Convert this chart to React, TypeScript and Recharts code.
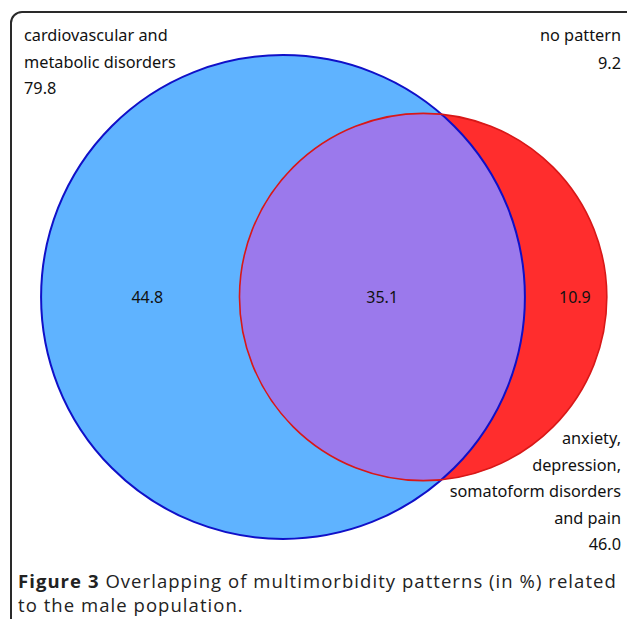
import React from "react";
import { ScatterChart, Scatter, XAxis, YAxis, ZAxis } from "recharts";

// Venn values (percent of male population)
const SET_NAMES = [
  "cardiovascular and metabolic disorders",
  "anxiety, depression, somatoform disorders and pain",
];
const SET_TOTALS = [79.8, 46.0];
const SET_OVERLAP = 35.1;
const REGION_NAMES = ["cardiovascular only", "both", "mental only"];
const REGION_VALUES = [44.8, 35.1, 10.9];
const NO_PATTERN = 9.2;

const FILL = ["#5fb3ff", "#ff2d2d"];
const STROKE = ["#1010c8", "#d81818"];
const LENS_FILL = "#9b79ec";
const TEXT = "#111";
const LABEL_FONT = "'Noto Sans', sans-serif";

// page layout
const W = 627;
const H = 619;
const PX = 48; // pixels per unit (circle area in units == value)
const ORIGIN = { x: 283, y: 297 };
const LABEL_NUDGE = [7, 0, 9];

// area-proportional geometry
const radius = (v: number) => Math.sqrt(v / Math.PI);

function lensArea(r1: number, r2: number, d: number) {
  if (d >= r1 + r2) return 0;
  if (d <= Math.abs(r1 - r2)) return Math.PI * Math.min(r1, r2) ** 2;
  const a1 = Math.acos((d * d + r1 * r1 - r2 * r2) / (2 * d * r1));
  const a2 = Math.acos((d * d + r2 * r2 - r1 * r1) / (2 * d * r2));
  const k = Math.sqrt((-d + r1 + r2) * (d + r1 - r2) * (d - r1 + r2) * (d + r1 + r2));
  return r1 * r1 * a1 + r2 * r2 * a2 - 0.5 * k;
}

function centerDistance(r1: number, r2: number, area: number) {
  let lo = Math.abs(r1 - r2);
  let hi = r1 + r2;
  for (let i = 0; i < 60; i++) {
    const mid = (lo + hi) / 2;
    if (lensArea(r1, r2, mid) > area) lo = mid;
    else hi = mid;
  }
  return (lo + hi) / 2;
}

const R1 = radius(SET_TOTALS[0]);
const R2 = radius(SET_TOTALS[1]);
const D = centerDistance(R1, R2, SET_OVERLAP);

const circles = SET_NAMES.map((name, i) => ({ name, value: SET_TOTALS[i], x: i === 0 ? 0 : D, y: 0 }));
const regionX = [(-R1 + D - R2) / 2, (D - R2 + R1) / 2, (R1 + D + R2) / 2];
const regions = REGION_NAMES.map((name, i) => ({ name, value: REGION_VALUES[i], x: regionX[i], y: 0 }));

const X_DOMAIN = [-ORIGIN.x / PX, (W - ORIGIN.x) / PX];
const Y_DOMAIN = [-(H - ORIGIN.y) / PX, ORIGIN.y / PX];

const rOf = (p: any) => (p.width ? p.width / 2 : Math.sqrt(p.size / Math.PI));

const FillShape = (p: any) => {
  const i = SET_NAMES.indexOf(p.payload.name);
  const r = rOf(p);
  return (
    <g>
      {i === 0 ? (
        <defs>
          <clipPath id="clip-first-set">
            <circle cx={p.cx} cy={p.cy} r={r} />
          </clipPath>
        </defs>
      ) : null}
      <circle cx={p.cx} cy={p.cy} r={r} fill={FILL[i]} />
    </g>
  );
};

const LensShape = (p: any) => (
  <circle cx={p.cx} cy={p.cy} r={rOf(p)} fill={LENS_FILL} clipPath="url(#clip-first-set)" />
);

const OutlineShape = (p: any) => {
  const i = SET_NAMES.indexOf(p.payload.name);
  return <circle cx={p.cx} cy={p.cy} r={rOf(p)} fill="none" stroke={STROKE[i]} strokeWidth={i === 0 ? 2 : 1.6} />;
};

const RegionLabel = (p: any) => {
  const i = REGION_NAMES.indexOf(p.payload.name);
  return (
    <text
      x={p.cx + LABEL_NUDGE[i]}
      y={p.cy}
      textAnchor="middle"
      dominantBaseline="central"
      fontFamily={LABEL_FONT}
      fontSize={16}
      fill={TEXT}
    >
      {p.payload.value.toFixed(1)}
    </text>
  );
};

const textBox: React.CSSProperties = {
  position: "absolute",
  fontFamily: LABEL_FONT,
  fontSize: 16.3,
  lineHeight: "26.5px",
  color: TEXT,
  whiteSpace: "nowrap",
};

const captionLine: React.CSSProperties = {
  position: "absolute",
  left: 18,
  fontFamily: "'Open Sans', sans-serif",
  fontSize: 18.5,
  letterSpacing: 1.05,
  lineHeight: "22px",
  color: "#222",
  whiteSpace: "nowrap",
};

export default function App() {
  return (
    <div style={{ position: "absolute", left: 0, top: 0, width: W, height: H, overflow: "hidden", background: "#fff" }}>
      <div
        style={{
          position: "absolute",
          left: 10,
          top: 11,
          width: 630,
          height: 640,
          border: "2px solid #2a2a2a",
          borderRadius: 12,
        }}
      />
      <div style={{ position: "absolute", left: 0, top: 0 }}>
        <ScatterChart width={W} height={H} margin={{ top: 0, right: 0, bottom: 0, left: 0 }}>
          <XAxis type="number" dataKey="x" domain={X_DOMAIN} allowDataOverflow hide />
          <YAxis type="number" dataKey="y" domain={Y_DOMAIN} allowDataOverflow hide />
          <ZAxis type="number" dataKey="value" domain={[0, SET_TOTALS[0]]} range={[0, PX * PX * SET_TOTALS[0]]} />
          <Scatter data={circles} shape={FillShape} isAnimationActive={false} />
          <Scatter data={[circles[1]]} shape={LensShape} isAnimationActive={false} />
          <Scatter data={circles} shape={OutlineShape} isAnimationActive={false} />
          <Scatter data={regions} shape={RegionLabel} isAnimationActive={false} />
        </ScatterChart>
      </div>
      <div style={{ ...textBox, left: 24, top: 22 }}>
        cardiovascular and
        <br />
        metabolic disorders
        <br />
        {SET_TOTALS[0].toFixed(1)}
      </div>
      <div style={{ ...textBox, right: 6, top: 21, textAlign: "right", lineHeight: "28px" }}>
        no pattern
        <br />
        {NO_PATTERN.toFixed(1)}
      </div>
      <div style={{ ...textBox, right: 6, top: 425, textAlign: "right" }}>
        anxiety,
        <br />
        depression,
        <br />
        somatoform disorders
        <br />
        and pain
        <br />
        {SET_TOTALS[1].toFixed(1)}
      </div>
      <div style={{ ...captionLine, top: 570 }}>
        <b>Figure 3</b> Overlapping of multimorbidity patterns (in %) related
      </div>
      <div style={{ ...captionLine, top: 594 }}>to the male population.</div>
    </div>
  );
}
